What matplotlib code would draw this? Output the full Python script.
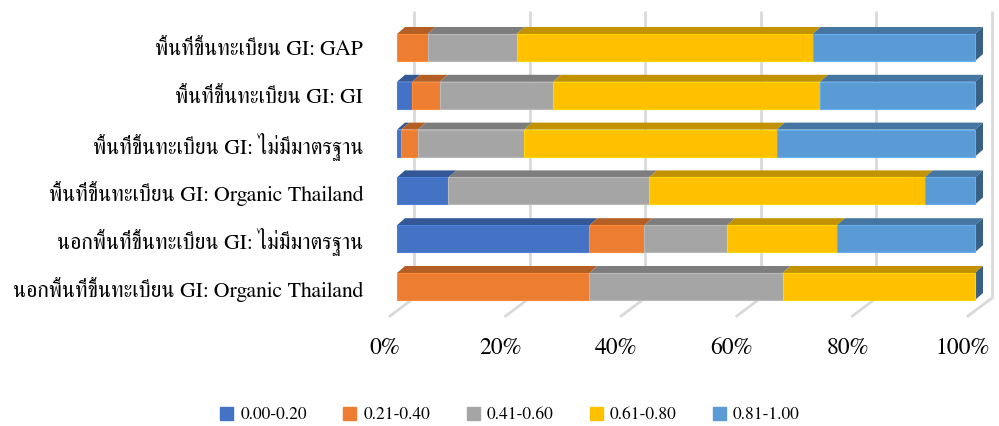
import matplotlib
matplotlib.use("Agg")
import matplotlib.pyplot as plt
import matplotlib.colors as mcolors
from matplotlib.transforms import ScaledTranslation
from matplotlib.patches import Polygon

plt.rcParams['font.family'] = ['FreeSerif', 'DejaVu Serif']

# categories, top to bottom as in the chart
categories = [
    "พื้นที่ขึ้นทะเบียน GI: GAP",
    "พื้นที่ขึ้นทะเบียน GI: GI",
    "พื้นที่ขึ้นทะเบียน GI: ไม่มีมาตรฐาน",
    "พื้นที่ขึ้นทะเบียน GI: Organic Thailand",
    "นอกพื้นที่ขึ้นทะเบียน GI: ไม่มีมาตรฐาน",
    "นอกพื้นที่ขึ้นทะเบียน GI: Organic Thailand",
]
series_names = ["0.00-0.20", "0.21-0.40", "0.41-0.60", "0.61-0.80", "0.81-1.00"]

# percent per category (same order as categories)
s_000_020 = [0.0, 2.6, 0.7, 8.9, 33.3, 0.0]
s_021_040 = [5.3, 4.8, 2.9, 0.0, 9.5, 33.3]
s_041_060 = [15.4, 19.6, 18.4, 34.7, 14.3, 33.4]
s_061_080 = [51.2, 46.2, 43.7, 47.7, 19.0, 33.3]
s_081_100 = [28.1, 26.8, 34.3, 8.7, 23.9, 0.0]
series = [s_000_020, s_021_040, s_041_060, s_061_080, s_081_100]

xticks = [0, 20, 40, 60, 80, 100]
xtick_labels = ["0%", "20%", "40%", "60%", "80%", "100%"]

colors = ["#4472C4", "#ED7D31", "#A5A5A5", "#FFC000", "#5B9BD5"]


def shade( c, f ):
    r, g, b = mcolors.to_rgb( c )
    return (min( r * f, 1 ), min( g * f, 1 ), min( b * f, 1 ))


fig = plt.figure( figsize=(9.99, 4.26), dpi=100 )
ax = fig.add_axes( [380 / 999, (426 - 318) / 426, 619 / 999, 310 / 426] )

sx = 5.78   # px per percent
sy = 47.8   # px per category
ax.set_xlim( -17 / sx, 104.15 )
ax.set_ylim( -(318 - 286.5) / sy, (286.5 - 8) / sy )

# 3d offsets (data units)
bar_h = 27 / sy
bdx, bdy = 8 / sx, 7 / sy            # bar depth
wall_dx = 17 / sx                    # back wall
floor_front_dx = -7 / sx
floor_front_y = -bar_h / 2 - 16 / sy
floor_back_y = -bar_h / 2 + 2 / sy
wall_top = (286.5 - 10.7) / sy

# back wall gridlines + floor lines
for v in xticks:
    ax.plot( [v + wall_dx, v + wall_dx], [floor_back_y, wall_top],
             color="#d9d9d9", lw=2, zorder=1, solid_capstyle="butt" )
    ax.plot( [v + floor_front_dx, v + wall_dx], [floor_front_y, floor_back_y],
             color="#d9d9d9", lw=2, zorder=1 )

n = len( categories )
ypos = [n - 1 - i for i in range( n )]

for i, y in enumerate( ypos ):
    left = 0.0
    top = y + bar_h / 2
    bottom = y - bar_h / 2
    for k, s in enumerate( series ):
        w = s[i]
        if w > 0:
            ax.barh( y, w, left=left, height=bar_h, color=colors[k],
                     edgecolor=shade( colors[k], 1.12 ), lw=0.8, zorder=3 )
            ax.add_patch( Polygon( [(left, top), (left + w, top),
                                    (left + w + bdx, top + bdy), (left + bdx, top + bdy)],
                                   closed=True, facecolor=shade( colors[k], 0.76 ),
                                   edgecolor="none", zorder=2 ) )
        left += w
    # right end face takes the colour of the last series
    ax.add_patch( Polygon( [(left, bottom), (left, top),
                            (left + bdx, top + bdy), (left + bdx, bottom + bdy)],
                           closed=True, facecolor=shade( colors[-1], 0.62 ),
                           edgecolor="none", zorder=2 ) )

ax.set_yticks( ypos )
ax.set_yticklabels( categories, fontsize=15.7 )
ax.set_xticks( xticks )
ax.set_xticklabels( xtick_labels, fontsize=17 )
ax.tick_params( axis="y", length=0, pad=12 )
ax.tick_params( axis="x", length=0, pad=14 )
for lab in ax.get_xticklabels():
    lab.set_transform( lab.get_transform() + ScaledTranslation( -0.12, 0, fig.dpi_scale_trans ) )
for sp in ax.spines.values():
    sp.set_visible( False )

handles = [plt.Rectangle( (0, 0), 1, 1, color=c ) for c in colors]
fig.legend( handles, series_names, loc="center", bbox_to_anchor=(510 / 999, 1 - 415 / 426),
            ncol=5, frameon=False, fontsize=12.5, handlelength=0.75, handleheight=0.75,
            handletextpad=0.4, columnspacing=2.1 )

fig.savefig( "out.png", dpi=100 )
